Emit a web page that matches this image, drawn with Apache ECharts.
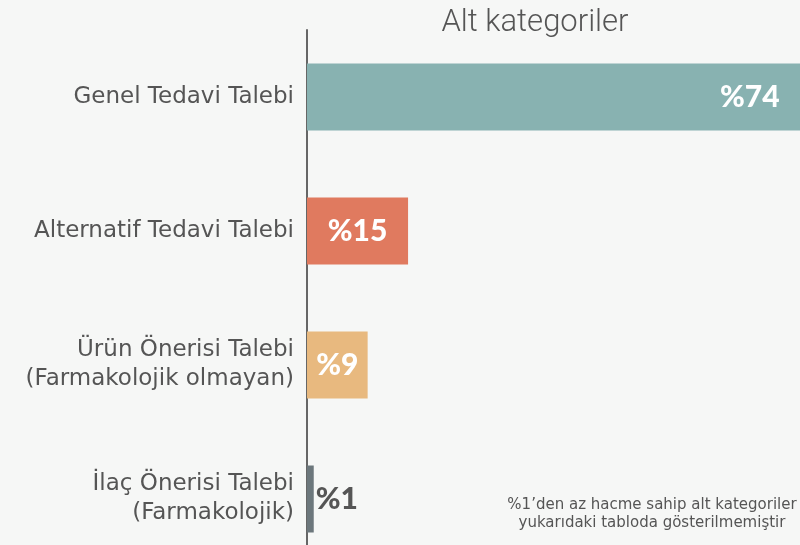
<!DOCTYPE html>
<html>
<head>
<meta charset="utf-8">
<script src="https://cdn.jsdelivr.net/npm/echarts@6/dist/echarts.min.js"></script>
<style>
  html, body { margin: 0; padding: 0; background: #f6f7f6; }
  #chart { width: 800px; height: 545px; }
</style>
</head>
<body>
<div id="chart"></div>
<script>
// kategoriler ve değerler (%)
const categories = [
    'Genel Tedavi Talebi',
    'Alternatif Tedavi Talebi',
    'Ürün Önerisi Talebi\n(Farmakolojik olmayan)',
    'İlaç Önerisi Talebi\n(Farmakolojik)'
];
const shares = [74, 15, 9, 1];
const barColors = ['#88b2b1', '#e07a5f', '#e8b97f', '#6c777c'];
const labelPositions = ['insideRight', 'inside', 'inside', 'right'];
const labelColors = ['#ffffff', '#ffffff', '#ffffff', '#555555'];

const chart = echarts.init(document.getElementById('chart'));

chart.setOption({
    backgroundColor: '#f6f7f6',
    animation: false,
    title: {
        text: 'Alt kategoriler',
        left: 530,
        top: 3,
        textAlign: 'center',
        textStyle: { fontFamily: 'Roboto', fontWeight: 300, fontSize: 31, color: '#555' }
    },
    grid: { left: 307, top: 30, width: 539, height: 536, outerBoundsMode: 'none' },
    xAxis: {
        type: 'value', min: 0, max: 80, show: false
    },
    yAxis: {
        type: 'category',
        inverse: true,
        data: categories,
        axisLine: { show: true, lineStyle: { color: '#666', width: 2 } },
        axisTick: { show: false },
        axisLabel: {
            margin: 13,
            fontFamily: 'DejaVu Sans',
            fontSize: 23,
            lineHeight: 29,
            color: '#555',
            align: 'right'
        }
    },
    series: [{
        type: 'bar',
        barWidth: 67,
        data: shares.map((v, i) => ({
            value: v,
            itemStyle: { color: barColors[i] },
            label: {
                show: true,
                position: labelPositions[i],
                distance: i === 0 ? 26 : 2,
                formatter: '%{c}',
                color: labelColors[i],
                fontFamily: 'Lato',
                fontWeight: 900,
                fontSize: 30
            }
        }))
    }],
    graphic: [{
        type: 'text',
        x: 652,
        y: 496,
        style: {
            text: '%1’den az hacme sahip alt kategoriler\nyukarıdaki tabloda gösterilmemiştir',
            textAlign: 'center',
            fontFamily: 'DejaVu Sans',
            fontSize: 15,
            lineHeight: 18,
            fill: '#555'
        }
    }]
});
</script>
</body>
</html>
